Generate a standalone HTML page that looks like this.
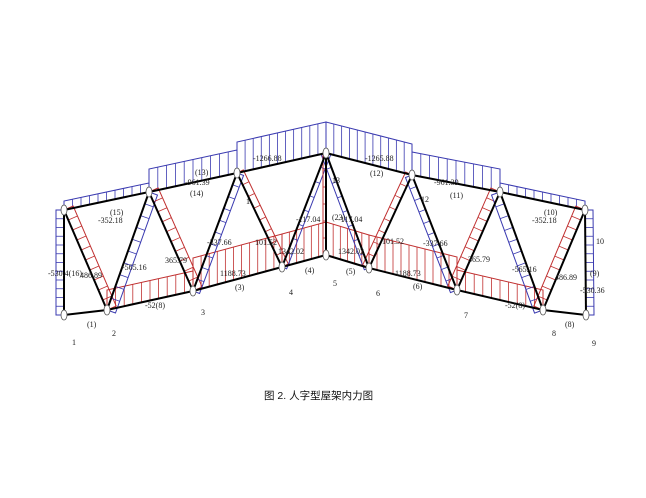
<!DOCTYPE html>
<html><head><meta charset="utf-8"><style>
body{margin:0;background:#fff;width:646px;height:498px;overflow:hidden}
svg{position:absolute;left:0;top:0}
.t{font-family:"Liberation Serif",serif;font-size:8px;fill:#222}
.cap{position:absolute;left:264px;top:388px;font-family:"Liberation Sans","Noto Sans CJK SC",sans-serif;font-size:10.5px;color:#111}
</style></head><body>
<svg id="s" width="646" height="498" xmlns="http://www.w3.org/2000/svg"></svg>
<div class="cap">图 2. 人字型屋架内力图</div>
<script>
const S=document.getElementById('s');let h='';
const B='#3a3ab0',R='#c03030';
function band(a,b,ox,oy,col,n){
  h+=`<polyline points="${a[0]},${a[1]} ${a[0]+ox},${a[1]+oy} ${b[0]+ox},${b[1]+oy} ${b[0]},${b[1]}" fill="none" stroke="${col}" stroke-width="1"/>`;
  for(let i=1;i<n;i++){const t=i/n,x=a[0]+(b[0]-a[0])*t,y=a[1]+(b[1]-a[1])*t;
    h+=`<line x1="${x}" y1="${y}" x2="${x+ox}" y2="${y+oy}" stroke="${col}" stroke-width="0.8"/>`;}
}
function perp(a,b,d,col,n){const dx=b[0]-a[0],dy=b[1]-a[1],L=Math.hypot(dx,dy);band(a,b,-dy/L*d,dx/L*d,col,n);}
const b1=[64,315],b2=[107,310],b3=[193,291],b4=[282,267],b5=[326,255],b6=[369,268],b7=[457,290],b8=[543,310],b9=[586,315];
const t1=[64,210],t2=[149,192],t3=[237,173],ap=[326,153],t4=[412,175],t5=[500,192],t6=[585,210];
band(t1,t2,0,-9,B,10);band(t2,t3,0,-23,B,10);band(t3,ap,0,-31,B,11);
band(ap,t4,0,-31,B,11);band(t4,t5,0,-23,B,10);band(t5,t6,0,-9,B,10);
band(t1,b1,-8,0,B,12);band(t6,b9,8,0,B,12);
band(b2,b3,0,-20,R,10);band(b3,b4,0,-33,R,11);band(b4,b5,0,-33,R,6);
band(b5,b6,0,-33,R,6);band(b6,b7,0,-33,R,11);band(b7,b8,0,-20,R,10);
perp(t1,b2,-10,R,10);perp(b2,t2,9,B,10);perp(t2,b3,-10,R,10);perp(b3,t3,7,B,10);perp(t3,b4,-7,R,8);perp(b4,ap,5,B,8);
perp(ap,b6,5,B,8);perp(b6,t4,-7,R,8);perp(t4,b7,7,B,10);perp(b7,t5,-10,R,10);perp(t5,b8,9,B,10);perp(b8,t6,-10,R,10);
band(ap,b5,-3,0,R,6);
const m=[[b1,b2],[b2,b3],[b3,b4],[b4,b5],[b5,b6],[b6,b7],[b7,b8],[b8,b9],[t1,t2],[t2,t3],[t3,ap],[ap,t4],[t4,t5],[t5,t6],[t1,b1],[t6,b9],[ap,b5],
[t1,b2],[b2,t2],[t2,b3],[b3,t3],[t3,b4],[b4,ap],[ap,b6],[b6,t4],[t4,b7],[b7,t5],[t5,b8],[b8,t6]];
m.forEach(([a,b])=>h+=`<line x1="${a[0]}" y1="${a[1]}" x2="${b[0]}" y2="${b[1]}" stroke="#000" stroke-width="2"/>`);
[b1,b2,b3,b4,b5,b6,b7,b8,b9,t1,t2,t3,ap,t4,t5,t6].forEach(p=>h+=`<ellipse cx="${p[0]}" cy="${p[1]}" rx="3" ry="5" fill="#fff" stroke="#555" stroke-width="0.8"/>`);
const L=[[72,345,'1'],[112,336,'2'],[201,315,'3'],[289,295,'4'],[333,286,'5'],[376,296,'6'],[464,318,'7'],[552,336,'8'],[592,346,'9'],[596,244,'10'],
[87,327,'(1)'],[235,290,'(3)'],[305,273,'(4)'],[346,274,'(5)'],[413,289,'(6)'],[565,327,'(8)'],[145,308,'-52(8)'],[505,308,'-52(8)'],
[220,276,'1188.73'],[278,254,'1342.02'],[338,254,'1342.02'],[395,276,'1188.73'],[253,161,'-1266.88'],[365,161,'-1265.88'],
[195,175,'(13)'],[370,176,'(12)'],[185,185,'-961.39'],[434,185,'-961.39'],[190,196,'(14)'],[450,198,'(11)'],
[98,223,'-352.18'],[110,215,'(15)'],[532,223,'-352.18'],[544,215,'(10)'],[48,276,'-530.4(16)'],[580,293,'-530.36'],[590,276,'(9)'],
[80,278,'486.89'],[555,280,'486.89'],[122,270,'-565.16'],[512,272,'-565.16'],[165,263,'365.79'],[468,262,'365.79'],
[207,245,'-337.66'],[423,246,'-337.66'],[255,245,'101.52'],[382,244,'101.52'],[296,222,'-117.04'],[338,222,'-117.04'],[332,220,'(23)'],[332,183,'13'],[421,202,'12'],[246,204,'1']];
L.forEach(([x,y,s])=>h+=`<text class="t" x="${x}" y="${y}">${s}</text>`);
S.innerHTML=h;
</script>
</body></html>
